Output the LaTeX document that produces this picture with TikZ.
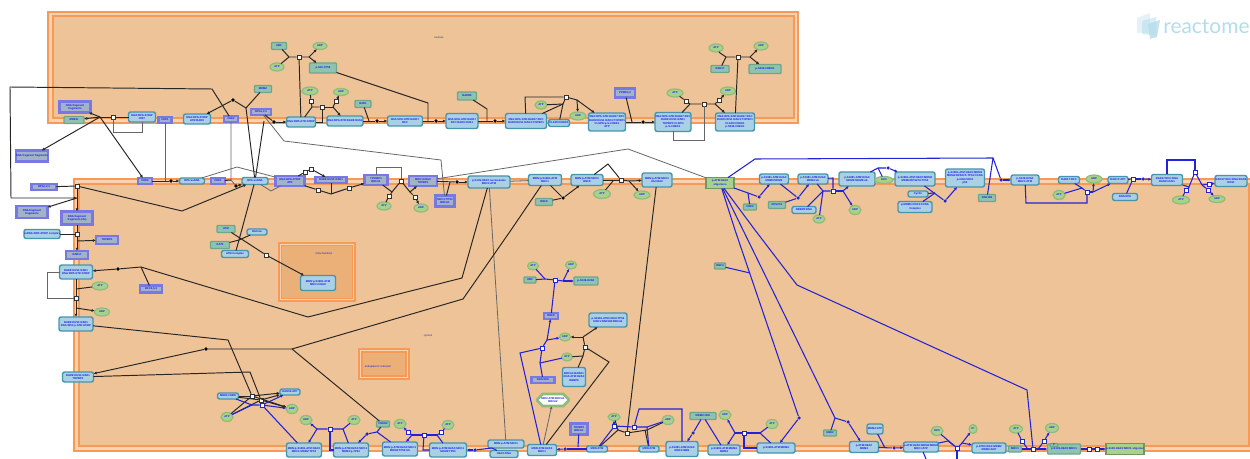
\documentclass[tikz,border=0pt]{standalone}
\usepackage{fontspec}
\setmainfont{Liberation Sans}
\newfontfamily\logofont{Lato}
\usetikzlibrary{arrows.meta,shapes.geometric,shapes.misc}
\definecolor{compout}{HTML}{F7D3B4}
\definecolor{compin}{HTML}{EEC398}
\definecolor{compline}{HTML}{F79A55}
\definecolor{compsub}{HTML}{EBB078}
\definecolor{cxfill}{HTML}{A9D0E4}
\definecolor{cxline}{HTML}{4795AD}
\definecolor{prfill}{HTML}{8FC3B0}
\definecolor{prline}{HTML}{6FA68A}
\definecolor{stfill}{HTML}{A2B3C8}
\definecolor{stline}{HTML}{7878E4}
\definecolor{chfill}{HTML}{A9D18E}
\definecolor{chline}{HTML}{8FBC7C}
\definecolor{lbl}{HTML}{1818F0}
\definecolor{blueln}{HTML}{2222D8}
\definecolor{grayln}{HTML}{666666}
\definecolor{logoc}{HTML}{B4DCEA}
\tikzset{
ent/.style n args={2}{inner sep=0pt,outer sep=0pt,align=center,text=lbl,minimum width=#1*0.02cm,minimum height=#2*0.02cm,font=\bfseries\fontsize{1.55}{1.9}\selectfont},
cx/.style 2 args={ent={#1}{#2},rectangle,rounded corners=1.2pt,fill=cxfill,draw=cxline,line width=0.8pt},
pr/.style 2 args={ent={#1}{#2},rectangle,rounded corners=0.5pt,fill=prfill,draw=prline,line width=0.8pt},
st/.style 2 args={ent={#1}{#2},rectangle,fill=stfill,draw=stline,line width=1.4pt},
ch/.style 2 args={ent={#1}{#2},ellipse,fill=chfill,draw=chline,line width=0.7pt},
gr/.style 2 args={ent={#1}{#2},rectangle,fill=chfill,draw=chline!80!black,line width=0.8pt},
rx/.style={rectangle,inner sep=0pt,minimum size=2.2pt,fill=white,draw=black!80,line width=0.4pt},
brx/.style={rx,draw=blueln},
dt/.style={circle,inner sep=0pt,minimum size=2pt,fill=black},
bdt/.style={dt,fill=blueln},
ln/.style={line width=0.55pt,black!85},
gl/.style={line width=0.45pt,grayln},
bl/.style={line width=0.6pt,blueln},
complbl/.style={text=lbl,inner sep=0pt,font=\fontsize{1.5}{1.8}\selectfont}
}
\begin{document}
\begin{tikzpicture}[x=0.02cm,y=-0.02cm,>={Latex[length=1.8pt,width=1.7pt]}]
\useasboundingbox (0,0) rectangle (1250,459);
\fill[white] (0,0) rectangle (1250,459);
\draw[fill=compout,draw=compline,line width=0.8pt] (48,12) rectangle (798,123);
\draw[fill=compin,draw=compline,line width=0.8pt] (53,16) rectangle (794,118);
\draw[fill=compout,draw=compline,line width=0.8pt] (74,179) rectangle (1262,451);
\draw[fill=compin,draw=compline,line width=0.8pt] (79,184) rectangle (1249,446);
\draw[fill=compout,draw=compline,line width=0.6pt] (279,243) rectangle (355,301);
\draw[fill=compsub,draw=compline,line width=0.6pt] (281.5,245.5) rectangle (352.5,298.5);
\draw[fill=compout,draw=compline,line width=0.6pt] (359,349) rectangle (409,379);
\draw[fill=compsub,draw=compline,line width=0.6pt] (362,352) rectangle (406,376);
\node[complbl] (nucl) at (439,38) {nucleus};
\node[complbl] (cyto) at (428,336) {cytosol};
\node[complbl] (subA) at (324,254) {mitochondrion};
\node[complbl] (subB) at (378,367) {endoplasmic reticulum};
\node[text=logoc,inner sep=0pt,anchor=west,font=\logofont\fontsize{11.9}{12}\selectfont] (logo) at (1163,27) {reactome};
\fill[logoc,opacity=0.35] (1137,18) -- (1150,13) -- (1150,33) -- (1137,33) -- cycle;
\fill[logoc,opacity=0.5] (1142,21) -- (1156,17) -- (1156,36) -- (1142,34) -- cycle;
\fill[logoc,opacity=0.8] (1148,24) -- (1160,20) -- (1157,37) -- (1150,39) -- cycle;

\node[pr={15}{7}] (pr279) at (279,46) {UBC};
\node[ch={14}{7}] (ch320) at (320,46) {ADP};
\node[ch={14}{8}] (ch277) at (277,67) {ATP};
\node[pr={27}{10}] (pr323) at (323,68) {p-S15-TP53};
\node[pr={17}{7}] (pr263) at (263,89) {MDM2};
\node[ch={16}{8}] (ch310) at (310,91) {ATP};
\node[ch={15}{7}] (ch341) at (341,92) {ADP};
\node[pr={16}{7}] (pr363) at (363,104) {RAD1};
\node[st={20}{6}] (st261) at (261,112) {RPA1,2,3};
\node[cx={27}{10}] (cx197) at (197,119) {DNA:RPA:ATRIP\\ATR:RAD9};
\node[st={14}{6}] (st231) at (231,119) {CDK2};
\node[cx={29}{10}] (cx301) at (301,122) {DNA:RPA:ATR:ATRIP};
\node[cx={36}{10}] (cx345) at (345,121) {DNA:RPA:ATR:RAD9:HUS1};
\node[cx={35}{10}] (cx405) at (405,121) {DNA:RPA:ATR:RAD17\\RFC};
\node[cx={27}{10}] (cx142) at (142,117) {DNA:RPA:ATRIP\\HIST};
\node[st={13}{6}] (st165) at (165,120) {CDK1};
\node[st={31}{11}] (st75) at (75,107) {DNA fragment\\fragments};
\node[pr={20}{7}] (pr74) at (74,120) {MRE11};
\node[st={32}{11}] (st32) at (32,156) {DNA fragment fragments};
\node[st={25}{6}] (st44) at (44,187) {RPA1,2,3};
\node[st={31}{12}] (st32b) at (32,212) {DNA fragment\\fragments};
\node[st={31}{13}] (st77) at (77,218) {DNA fragment\\fragments (ds)};
\node[st={14}{6}] (st145) at (145,181) {CDK2};
\node[cx={25}{6}] (cx192) at (192,181) {RPA:ssDNA};
\node[st={14}{6}] (st218) at (218,181) {CDK1};
\node[cx={26}{7}] (cx255) at (255,181) {RPA:ssDNA};
\node[st={29}{10}] (st290) at (290,181) {DNA:RPA:ATRIP\\ATR};
\node[st={31}{6}] (st331) at (331,180) {RAD9:HUS1:RAD1};
\node[st={23}{10}] (st376) at (376,180) {TP53BP1\\BRCA1};
\node[st={28}{10}] (st423) at (423,181) {MDC1:H2AX\\TOPBP1};
\node[ch={14}{8}] (ch384) at (384,206) {ATP};
\node[ch={14}{8}] (ch421) at (421,208) {ADP};

\node[cx={32}{15}] (cx462) at (462,121) {DNA:RPA:ATR:RAD17\\RFC:RAD9:HUS1};
\node[pr={19}{8}] (pr467) at (467,96) {RAD9B};
\node[cx={41}{15}] (cx526) at (526,121) {DNA:RPA:ATR:RAD17:RFC\\RAD9:HUS1:RAD1:TOPBP1};
\node[ch={12}{8}] (ch541) at (541,105) {ATP};
\node[cx={21}{7}] (cx559) at (559,123) {CLSPN:CHEK1};
\node[ch={16}{8}] (ch578) at (578,116) {ADP};
\node[cx={37}{18}] (cx607) at (607,122) {DNA:RPA:ATR:RAD17:RFC\\RAD9:HUS1:RAD1:TOPBP1\\CLSPN:p-S-CHEK1\\ATP};
\node[st={20}{9}] (st625) at (625,93) {PPM1D,2};
\node[cx={36}{19}] (cx673) at (673,122) {DNA:RPA:ATR:RAD17:RFC\\RAD9:HUS1:RAD1\\TOPBP1:CLSPN\\p-S-CHEK1};
\node[ch={16}{8}] (ch675) at (675,93) {ATP};
\node[ch={15}{8}] (ch728) at (728,91) {ADP};
\node[cx={39}{18}] (cx735) at (735,122) {DNA:RPA:ATR:RAD17:RFC\\RAD9:HUS1:RAD1:TOPBP1\\CLSPN:CHEK1\\p-S345-CHEK1};
\node[ch={14}{8}] (ch716) at (716,48) {ATP};
\node[ch={14}{8}] (ch761) at (761,46) {ADP};
\node[pr={18}{7}] (pr720) at (720,69) {RAD17};
\node[pr={32}{9}] (pr765) at (765,69) {p-S345-CHEK1};
\node[st={19}{11}] (st445) at (445,201) {MDC1:TP53\\BRCA1};
\node[cx={42}{12}] (cx489) at (489,182) {p-S139-H2AX nucleosome\\MDC1:ATM};
\node[cx={33}{11}] (cx545) at (545,180) {MRN:p-S1981-ATM\\MDC1};
\node[pr={17}{7}] (pr544) at (544,202) {RNF8};
\node[cx={32}{11}] (cx587) at (587,180) {MRN:p-ATM:MDC1\\RNF8};
\node[ch={17}{9}] (ch602) at (602,194) {ATP};
\node[ch={16}{8}] (ch642) at (642,195) {ADP};
\node[cx={30}{14}] (cx657) at (657,180) {MRN:p-ATM:MDC1\\Ub-H2AX};
\node[gr={28}{11}] (gr720) at (720,183) {p-ATM:H2AX\\oligomers};
\node[cx={29}{10}] (cx774) at (774,179) {p-S1981-ATM:H2AX\\MDM4:MDM2};
\node[pr={13}{6}] (pr750) at (750,207) {CDK2};
\node[pr={17}{7}] (pr777) at (777,205) {RPS27A};
\node[cx={30}{10}] (cx813) at (813,179) {p-S1981-ATM:H2AX\\MDM4:ub};
\node[cx={24}{7}] (cx804) at (804,210) {RBBP8:DNA};
\node[ch={12}{8}] (ch819) at (819,219) {ATP};

\node[cx={36}{14}] (cx857) at (857,179) {p-S1981-ATM:H2AX\\MDM2:MDM4:ub};
\node[ch={18}{7}] (ch884) at (884,180) {H2O};
\node[ch={12}{9}] (ch855) at (855,210) {ADP};
\node[cx={40}{14}] (cx915) at (915,179) {p-S1981-ATM:H2AX:MDM2\\MDM4:RPS27A:TP53};
\node[cx={20}{6}] (cx918) at (918,194) {Cyclin};
\node[cx={34}{11}] (cx915b) at (915,207) {p-MDM4:CDK2:CCNA\\Complex};
\node[cx={39}{18}] (cx965) at (965,178) {p-S1981-ATM:H2AX:MDM2\\MDM4:RPS27A:TP53:CCNA\\p-CDK2:RPA\\p53};
\node[pr={17}{7}] (pr987) at (987,198) {RNF168};
\node[cx={28}{10}] (cx1025) at (1025,180) {p-S139-H2AX\\MDC1:ATM};
\node[cx={21}{7}] (cx1069) at (1069,180) {RAD17:RFC};
\node[ch={16}{8}] (ch1094) at (1094,179) {ADP};
\node[ch={12}{9}] (ch1059) at (1059,195) {ATP};
\node[cx={20}{7}] (cx1118) at (1118,180) {RAD17:ATP};
\node[cx={25}{7}] (cx1125) at (1125,197) {DNA:RPA};
\node[cx={31}{11}] (cx1167) at (1167,180) {RAD17:RFC:DNA\\RAD9:HUS1};
\node[ch={17}{8}] (ch1181) at (1181,200) {ATP};
\node[ch={16}{7}] (ch1217) at (1217,199) {ADP};
\node[cx={32}{11}] (cx1231) at (1231,181) {RAD17:RFC:DNA:RAD9\\HUS1};

\node[cx={35}{9}] (cx42) at (42,234) {ssDNA:RPA:ATRIP complex};
\node[st={22}{8}] (st107) at (107,240) {TOPBP1};
\node[st={22}{8}] (st77b) at (77,255) {RAD17};
\node[cx={33}{14}] (cx76) at (76,272) {RAD9:HUS1:RAD1\\DNA:RPA:ATR:ATRIP};
\node[ch={16}{8}] (ch100) at (100,286) {ATP};
\node[ch={15}{8}] (ch102) at (102,312) {ADP};
\node[cx={34}{14}] (cx76b) at (76,324) {RAD9:HUS1:RAD1\\DNA:RPA:p-ATR:ATRIP};
\node[st={22}{7}] (st151) at (151,289) {RFC2,3,4};
\node[cx={31}{10}] (cx78) at (78,377) {RAD9:HUS1:RAD1\\TOPBP1};
\node[cx={21}{6}] (cx228) at (228,396) {MRE11:NBN};
\node[cx={20}{6}] (cx290) at (290,392) {RAD50:ATP};
\node[ch={12}{9}] (ch227) at (227,417) {ATP};
\node[ch={12}{9}] (ch292) at (292,409) {ADP};
\node[ch={12}{9}] (ch306) at (306,420) {ADP};
\node[ch={12}{9}] (ch354) at (354,420) {ATP};
\node[pr={13}{6}] (pr383) at (383,424) {CHEK2};
\node[ch={12}{9}] (ch400) at (400,424) {ATP};
\node[cx={35}{14}] (cx304) at (304,450) {MRN:p-S1981-ATM:H2AX\\MDC1:MDM2:TP53};
\node[cx={35}{14}] (cx351) at (351,450) {MRN:p-ATM:H2AX:MDC1\\MDM2:p-TP53};
\node[cx={35}{14}] (cx400) at (400,449) {MRN:p-ATM:H2AX:MDC1\\MDM2:TP53:Ub};
\node[cx={35}{15}] (cx318) at (318,283) {MRN:p-S1981-ATM\\MDC1:H2AX};
\node[cx={27}{7}] (cx235) at (235,254) {ATM Complex};
\node[pr={19}{7}] (pr220) at (220,245) {KAT5};
\node[pr={18}{7}] (pr226) at (226,229) {ATM};
\node[cx={20}{6}] (cx257) at (257,232) {Histone};

\node[ch={12}{9}] (ch448) at (448,425) {ATP};
\node[cx={37}{14}] (cx448) at (448,450) {MRN:p-ATM:H2AX:MDC1\\MDM2:TP53};
\node[cx={36}{8}] (cx506) at (506,444) {MRN:p-ATM:MDC1};
\node[cx={28}{7}] (cx504) at (504,454) {H2AX:DNA};
\node[cx={29}{11}] (cx542) at (542,450) {MRN:ATM:H2AX\\MDC1};
\node[st={17}{11}] (st579) at (579,429) {TOPBP1\\BRCA1};
\node[cx={21}{6}] (cx597) at (597,449) {MRN:ATM};
\node[cx={20}{6}] (cx649) at (649,449) {MRN:ATM};
\node[ch={12}{7}] (ch614) at (614,417) {ATP};
\node[ch={12}{9}] (ch668) at (668,420) {ADP};
\node[cx={32}{15}] (cx682) at (682,449) {p-S1981-ATM:H2AX\\MDC1:NBN};
\node[pr={26}{7}] (pr703) at (703,416) {MDM4:CDK};
\node[ch={12}{9}] (ch725) at (725,415) {ADP};
\node[ch={12}{9}] (ch772) at (772,424) {ATP};
\node[cx={32}{10}] (cx724) at (724,450) {p-S1981-ATM:MDM4\\MDM2};
\node[cx={38}{10}] (cx776) at (776,448) {p-S1981-ATM:MDM4};
\node[chamfered rectangle,ent={31}{12},fill=white,draw=chline,line width=1.5pt,chamfered rectangle xsep=1.5pt,chamfered rectangle ysep=1.5pt,chamfered rectangle corners={north east,north west,south east,south west}] (hex553) at (553,400) {MRN:ATM:BRCA1\\BRCA2};
\node[cx={23}{19}] (cx574) at (574,377) {BRCA1:BARD1\\DNA:ATM:H2AX\\RBBP8};
\node[st={23}{6}] (st543) at (543,380) {DNA:RPA};
\node[ch={11}{8}] (ch567) at (567,357) {ATP};
\node[ch={11}{8}] (ch565) at (565,337) {ADP};
\node[cx={38}{14}] (cx608) at (608,320) {p-S1981-ATM:H2AX:TP53\\MDC1:RNF168:BRCA1};
\node[st={14}{6}] (st551) at (551,316) {RNF8};
\node[ch={11}{8}] (ch533) at (533,266) {ATP};
\node[ch={11}{8}] (ch571) at (571,265) {ADP};
\node[pr={12}{6}] (pr530) at (530,280) {UBC};
\node[pr={24}{8}] (pr586) at (586,281) {p-S139-H2AX};
\node[pr={11}{6}] (pr720b) at (720,266) {RNF4};
\node[pr={13}{6}] (pr830) at (830,433) {UBE2};
\node[cx={29}{11}] (cx864) at (864,447) {p-ATM:H2AX\\MDM2};
\node[cx={16}{10}] (cx875) at (875,429) {MDM4:ATP};
\node[cx={35}{10}] (cx921) at (921,447) {p-ATM:H2AX:MDM2:MDM4\\MDC1:ATP};
\node[ch={12}{9}] (ch937) at (937,431) {H2O};
\node[ch={8}{9}] (ch973) at (973,429) {Pi};
\node[cx={34}{10}] (cx989) at (989,448) {p-ATM:H2AX:MDM2\\MDM4:ADP};
\node[pr={13}{6}] (pr1015) at (1015,449) {MDC1};
\node[ch={13}{8}] (ch1016) at (1016,429) {ATP};
\node[ch={13}{9}] (ch1052) at (1052,428) {ADP};
\node[pr={33}{10}] (pr1064) at (1064,449) {p-S139-H2AX:MDC1};
\node[pr={8}{3}] (pr1054) at (1054,445) {P};
\node[gr={37}{11}] (gr1125) at (1125,449) {p-S139-H2AX:MDC1 oligomer};

\node[rx] (rx299) at (299,57) {};
\node[rx] (rx311) at (311,101) {};
\node[rx] (rx336) at (336,101) {};
\node[rx] (rx322) at (322,107) {};
\node[rx] (rx113) at (113,117) {};
\node[rx] (rx77) at (77,186) {};
\node[rx] (rx305) at (305,172) {};
\node[rx] (rx311b) at (311,169) {};
\node[rx] (rx318) at (318,190) {};
\node[rx] (rx349) at (349,188) {};
\node[rx] (rx401) at (401,181) {};
\node[rx] (rx389) at (389,196) {};
\node[rx] (rx415) at (415,197) {};
\node[rx] (rx566) at (566,97) {};
\node[rx] (rx686) at (686,101) {};
\node[rx] (rx719) at (719,100) {};
\node[rx] (rx704) at (704,104) {};
\node[rx] (rx738) at (738,57) {};
\node[rx] (rx621) at (621,180) {};
\node[rx] (rx77b) at (77,234) {};
\node[rx] (rx76) at (76,298) {};
\node[rx] (rx252) at (252,396) {};
\node[rx] (rx261) at (261,400) {};
\node[rx] (rx266) at (266,255) {};
\node[rx] (rx585) at (585,347) {};
\node[rx] (rx627) at (627,433) {};
\node[brx] (rx262) at (262,405) {};
\node[brx] (rx330) at (330,429) {};
\node[brx] (rx408) at (408,432) {};
\node[brx] (rx424) at (424,435) {};
\node[brx] (rx441) at (441,432) {};
\node[brx] (rx614) at (614,426) {};
\node[brx] (rx634) at (634,427) {};
\node[brx] (rx744) at (744,433) {};
\node[brx] (rx542) at (542,348) {};
\node[brx] (rx555) at (555,280) {};
\node[brx] (rx833) at (833,191) {};
\node[brx] (rx1087) at (1087,192) {};
\node[brx] (rx1133) at (1133,179) {};
\node[brx] (rx1195) at (1195,172) {};
\node[brx] (rx1186) at (1186,190) {};
\node[brx] (rx1209) at (1209,184) {};
\node[brx] (rx1208) at (1208,190) {};
\node[brx] (rx957) at (957,448) {};
\node[brx] (rx1022) at (1022,441) {};
\node[brx] (rx1033) at (1033,449) {};
\node[brx] (rx1044) at (1044,441) {};
\node[brx] (rx1089) at (1089,449) {};
\node[brx] (rx1097) at (1097,449) {};
\node[dt] (dt233) at (233,100) {};
\node[dt] (dt274) at (274,122) {};
\node[dt] (dt377) at (377,121) {};
\node[dt] (dt495) at (495,121) {};
\node[dt] (dt643) at (643,122) {};
\node[dt] (dt171) at (171,181) {};
\node[dt] (dt236) at (236,186) {};
\node[dt] (dt457) at (457,182) {};
\node[dt] (dt563) at (563,198) {};
\node[dt] (dt118) at (118,269) {};
\node[dt] (dt206) at (206,349) {};
\node[dt] (dt436) at (436,121) {};
\node[bdt] (dt759) at (759,197) {};
\node[bdt] (dt798) at (798,198) {};
\node[bdt] (dt888) at (888,168) {};
\node[bdt] (dt945) at (945,201) {};
\node[bdt] (dt1001) at (1001,180) {};
\node[bdt] (dt1143) at (1143,179) {};
\node[bdt] (dt367) at (367,434) {};
\node[bdt] (dt475) at (475,450) {};
\node[bdt] (dt565) at (565,449) {};
\node[bdt] (dt693) at (693,433) {};
\node[bdt] (dt799) at (799,418) {};
\node[bdt] (dt848) at (848,422) {};
\node[bdt] (dt894) at (894,448) {};

\draw[ln,->] (st231) -- (212,89) -- (10,87) -- (11,198) -- (77,198);
\draw[ln] (st44) -- (rx77);
\draw[ln,->] (rx77) -- (st77);
\draw[ln,->] (77,198) -- (st32b);
\draw[ln,->] (rx77) -- (182,211) -- (cx255);
\draw[ln] (cx142) -- (rx113) -- (100,117);
\draw[ln,->] (100,117) -- (pr74);
\draw[ln,->] (100,117) -- (st75);
\draw[ln,->] (100,117) -- (st32);
\draw[ln,->] (100,117) -- (st145);
\draw[gl] (rx113) -- (113,132) -- (142,132) -- (cx142);
\draw[gl] (st165) -- (165,181);
\draw[ln] (st145) -- (dt171);
\draw[ln,->] (dt171) -- (cx192);
\draw[gl] (st231) -- (231,180) -- (dt236);
\draw[ln] (st218) -- (231,180);
\draw[ln,->] (dt236) -- (cx255);
\draw[gl] (cx192) -- (237,167) -- (st290);
\draw[gl] (cx255) -- (271,191) -- (st290);
\draw[ln] (cx255) -- (246,108) -- (dt233);
\draw[ln,->] (dt233) -- (cx197);
\draw[ln] (246,108) -- (pr263);
\draw[ln] (cx255) -- (264,121);
\draw[ln] (st261) -- (dt274);
\draw[ln,->] (dt274) -- (cx301);
\draw[gl] (st261) -- (284,141) -- (441,160) -- (st445);
\draw[ln] (cx255) -- (239,240) -- (cx235);
\draw[ln] (pr220) -- (239,240) -- (cx257);
\draw[ln] (pr226) -- (rx266);
\draw[ln,->] (rx266) -- (cx318);
\draw[ln] (st290) -- (rx318) -- (331,194) -- (rx349);
\draw[ln,->] (rx349) -- (st376);
\draw[ln] (331,194) -- (st331);
\draw[ln] (st290) -- (rx305) -- (rx311b);
\draw[ln,->] (rx311b) -- (st331);
\draw[gl] (st376) -- (376,167) -- (401,167) -- (rx401);
\draw[ln] (st376) -- (392,192) -- (rx401);
\draw[ln] (ch384) -- (rx389) -- (392,192);
\draw[ln,->] (rx401) -- (410,192) -- (st423);
\draw[ln,->] (410,192) -- (rx415) -- (ch421);
\draw[ln] (pr279) -- (289,57) -- (rx299) -- (309,57);
\draw[ln] (ch277) -- (289,57);
\draw[ln,->] (309,57) -- (ch320);
\draw[ln,->] (309,57) -- (pr323);
\draw[ln] (rx299) -- (cx301);
\draw[ln] (pr323) -- (428,103) -- (428,121);
\draw[ln] (cx405) -- (dt436);
\draw[ln,->] (dt436) -- (cx462);
\draw[ln] (cx301) -- (312,107) -- (rx322);
\draw[ln] (ch310) -- (rx311) -- (312,107);
\draw[ln] (rx322) -- (333,107);
\draw[ln,->] (333,107) -- (rx336) -- (ch341);
\draw[ln,->] (333,107) -- (cx345);
\draw[ln] (rx322) -- (322,122) -- (cx301);
\draw[ln] (pr363) -- (369,121);
\draw[ln] (cx345) -- (dt377);
\draw[ln,->] (dt377) -- (cx405);
\draw[ln] (pr467) -- (487,109) -- (487,121);
\draw[ln] (cx462) -- (dt495);
\draw[ln,->] (dt495) -- (cx526);
\draw[ln] (cx526) -- (525,97) -- (rx566);
\draw[ln] (ch541) -- (563,104);
\draw[ln] (cx526) -- (563,104);
\draw[ln] (cx559) -- (563,104) -- (rx566);
\draw[ln,->] (rx566) -- (577,100) -- (ch578);
\draw[ln,->] (577,100) -- (cx607);
\draw[ln] (st625) -- (632,122);
\draw[ln] (cx607) -- (dt643);
\draw[ln,->] (dt643) -- (cx673);
\draw[ln] (cx673) -- (690,104) -- (rx704) -- (715,104);
\draw[ln] (ch675) -- (rx686) -- (690,104);
\draw[ln,->] (715,104) -- (rx719) -- (ch728);
\draw[ln,->] (715,104) -- (cx735);
\draw[gl] (673,131) -- (673,140) -- (704,140) -- (rx704);
\draw[ln] (ch716) -- (720,53) -- (726,57) -- (rx738) -- (750,57);
\draw[ln] (pr720) -- (726,57);
\draw[ln,->] (750,57) -- (ch761);
\draw[ln,->] (750,57) -- (pr765);
\draw[ln] (rx738) -- (cx735);
\draw[ln] (st423) -- (dt457);
\draw[ln,->] (dt457) -- (cx489);
\draw[ln] (st445) -- (450,182);
\draw[gl] (st423) -- (628,149) -- (gr720);
\draw[gl] (cx489) -- (cx545);
\draw[ln,->] (cx489) -- (462,278) -- (308,317) -- (141,267) -- (dt118) -- (cx76);
\draw[ln] (st151) -- (141,267);
\draw[gl] (cx489) -- (cx506);
\draw[ln] (cx545) -- (dt563);
\draw[ln,->] (dt563) -- (cx587);
\draw[ln] (cx545) -- (511,230) -- (463,299) -- (292,349) -- (dt206);
\draw[ln,->] (dt206) -- (cx78);
\draw[ln] (292,349) -- (pr383);
\draw[ln] (pr544) -- (dt563);
\draw[ln] (cx587) -- (608,164) -- (rx621);
\draw[ln] (cx587) -- (rx621);
\draw[ln] (ch602) -- (613,181);
\draw[ln] (rx621) -- (629,181);
\draw[ln,->] (629,181) -- (cx657);
\draw[ln,->] (629,181) -- (ch642);
\draw[ln] (cx657) -- (651,230) -- (rx627);
\draw[gl] (cx76) -- (47,272) -- (47,298) -- (rx76);
\draw[ln] (cx76) -- (rx76);
\draw[ln] (ch100) -- (76,289);
\draw[ln,->] (rx76) -- (cx76b);
\draw[ln,->] (76,308) -- (ch102);
\draw[ln] (cx42) -- (rx77b);
\draw[ln,->] (rx77b) -- (st77b);
\draw[ln,->] (77,241) -- (st107);
\draw[ln] (st77) -- (rx77b);
\draw[ln] (cx76b) -- (228,340) -- (rx252);
\draw[ln] (cx78) -- (250,372) -- (rx261);
\draw[ln] (cx228) -- (rx252);
\draw[ln] (cx228) -- (rx261);
\draw[ln] (ch227) -- (rx252);
\draw[ln] (ch227) -- (rx261);
\draw[ln,->] (rx252) -- (cx290);
\draw[ln,->] (rx252) -- (ch292);
\draw[ln,->] (rx261) -- (cx290);
\draw[ln,->] (rx261) -- (ch292);
\draw[bl] (ch227) -- (252,405) -- (rx262);
\draw[bl] (cx228) -- (252,405);
\draw[bl,->] (rx262) -- (cx290);
\draw[bl,->] (rx262) -- (ch292);
\draw[bl] (rx262) -- (cx304);
\draw[bl] (cx351) -- (343,429) -- (rx330) -- (317,429);
\draw[bl] (ch354) -- (343,429);
\draw[bl,->] (317,429) -- (cx304);
\draw[bl,->] (317,429) -- (ch306);
\draw[bl] (rx330) -- (330,450) -- (cx351);
\draw[bl] (pr383) -- (377,432) -- (dt367);
\draw[bl,->] (dt367) -- (cx351);
\draw[bl] (377,432) -- (cx400);
\draw[bl,->] (412,435) -- (cx400);
\draw[bl,->] (412,435) -- (rx408) -- (ch400);
\draw[bl] (rx424) -- (412,435);
\draw[bl] (rx424) -- (437,435);
\draw[bl] (ch448) -- (rx441) -- (437,435);
\draw[bl] (437,435) -- (cx448);
\draw[bl] (rx424) -- (423,450) -- (cx448);
\draw[bl] (cx506) -- (492,448) -- (dt475);
\draw[bl] (cx504) -- (492,448);
\draw[bl,->] (dt475) -- (cx448);
\draw[gl,->] (cx542) -- (hex553);
\draw[bl] (cx542) -- (520,353) -- (rx542);
\draw[ln] (cx542) -- (609,362) -- (rx585);
\draw[bl] (st543) -- (540,363) -- (ch567);
\draw[bl] (540,363) -- (rx542);
\draw[bl] (rx542) -- (547,340);
\draw[bl,->] (547,340) -- (ch565);
\draw[bl,->] (547,340) -- (st551);
\draw[bl] (st551) -- (rx555);
\draw[bl] (ch533) -- (545,279) -- (rx555);
\draw[bl] (pr530) -- (545,279);
\draw[bl] (rx555) -- (563,281);
\draw[bl,->] (563,281) -- (ch571);
\draw[bl,->] (563,281) -- (pr586);
\draw[ln] (ch567) -- (583,356) -- (rx585);
\draw[ln] (cx574) -- (583,356);
\draw[ln] (rx585) -- (583,337);
\draw[ln,->] (583,337) -- (ch565);
\draw[ln,->] (583,337) -- (cx608);
\draw[bl] (st579) -- (578,447);
\draw[bl] (cx597) -- (dt565);
\draw[bl,->] (dt565) -- (cx542);
\draw[ln] (cx597) -- (618,430) -- (rx627) -- (647,430);
\draw[ln] (ch614) -- (618,430);
\draw[ln] (cx649) -- (645,430);
\draw[ln] (ch668) -- (647,430);
\draw[bl] (cx597) -- (613,428) -- (rx614) -- (rx634) -- (647,427);
\draw[bl] (ch668) -- (647,427);
\draw[bl,->] (rx614) -- (ch614);
\draw[bl] (rx634) -- (639,409) -- (682,409) -- (cx682);
\draw[bl] (647,427) -- (cx649);
\draw[bl] (pr703) -- (dt693);
\draw[bl,->] (dt693) -- (cx682);
\draw[bl] (pr703) -- (cx724);
\draw[bl] (rx744) -- (735,433);
\draw[bl,->] (735,433) -- (cx724);
\draw[bl,->] (735,433) -- (ch725);
\draw[bl] (rx744) -- (760,433);
\draw[bl] (ch772) -- (760,433);
\draw[bl] (cx776) -- (760,433);
\draw[bl] (rx744) -- (744,448) -- (cx776);
\draw[bl] (gr720) -- (735,230) -- (dt799);
\draw[bl,->] (dt799) -- (cx776);
\draw[bl] (gr720) -- (743,230) -- (835,418) -- (pr830);
\draw[bl] (835,418) -- (dt848);
\draw[bl,->] (dt848) -- (cx864);
\draw[bl] (gr720) -- (755,230) -- (797,285) -- (1027,390) -- (rx1033);
\draw[bl] (pr720b) -- (750,273);
\draw[bl] (gr720) -- (748,193) -- (dt759);
\draw[bl,->] (dt759) -- (cx774);
\draw[bl] (pr750) -- (748,193);
\draw[bl] (cx774) -- (dt798);
\draw[bl,->] (dt798) -- (cx813);
\draw[bl] (pr777) -- (dt798);
\draw[bl] (cx813) -- (823,191) -- (rx833);
\draw[bl] (ch819) -- (823,191);
\draw[bl] (cx804) -- (823,191);
\draw[bl] (cx813) -- (833,178) -- (rx833);
\draw[bl] (rx833) -- (843,191);
\draw[bl,->] (843,191) -- (cx857);
\draw[bl,->] (843,191) -- (ch855);
\draw[bl] (gr720) -- (755,159) -- (993,158) -- (dt1001);
\draw[bl,->] (dt1001) -- (cx1025);
\draw[bl] (993,158) -- (pr987);
\draw[bl] (cx857) -- (878,168) -- (dt888);
\draw[bl,->] (dt888) -- (cx915);
\draw[bl] (ch884) -- (878,168);
\draw[bl] (cx915) -- (dt945);
\draw[bl,->] (dt945) -- (cx965);
\draw[bl] (cx918) -- (935,193);
\draw[bl] (cx915b) -- (935,193);
\draw[bl] (cx1025) -- (1026,203) -- (1087,203) -- (rx1087);
\draw[bl] (cx1069) -- (1082,188) -- (rx1087);
\draw[bl] (ch1059) -- (1082,188);
\draw[bl] (rx1087) -- (1093,192);
\draw[bl,->] (1093,192) -- (ch1094);
\draw[bl,->] (1093,192) -- (cx1118);
\draw[bl] (cx1118) -- (rx1133);
\draw[bl] (rx1133) -- (dt1143);
\draw[bl,->] (dt1143) -- (cx1167);
\draw[bl] (cx1125) -- (rx1133);
\draw[bl] (cx1167) -- (1167,160) -- (1195,160) -- (rx1195);
\draw[bl] (cx1167) -- (1189,187) -- (rx1195);
\draw[bl] (ch1181) -- (rx1186) -- (1189,187);
\draw[bl] (rx1195) -- (1202,185);
\draw[bl,->] (1202,185) -- (rx1209) -- (cx1231);
\draw[bl,->] (1202,185) -- (rx1208) -- (ch1217);
\draw[bl] (cx875) -- (885,448);
\draw[bl] (cx864) -- (dt894);
\draw[bl,->] (dt894) -- (cx921);
\draw[bl] (cx921) -- (948,441) -- (rx957);
\draw[bl] (ch937) -- (rx957);
\draw[bl] (rx957) -- (962,443);
\draw[bl,->] (962,443) -- (ch973);
\draw[bl,->] (962,443) -- (cx989);
\draw[bl] (cx921) -- (926,459);
\draw[bl] (rx957) -- (957,459);
\draw[bl] (ch1016) -- (rx1022) -- (1027,448);
\draw[bl] (pr1015) -- (rx1033);
\draw[bl] (rx1033) -- (1039,448);
\draw[bl,->] (1039,448) -- (rx1044) -- (ch1052);
\draw[bl,->] (rx1033) -- (pr1064);
\draw[bl] (pr1064) -- (rx1089);
\draw[bl] (rx1089) -- (rx1097);
\draw[bl,->] (rx1097) -- (gr1125);
\end{tikzpicture}
\end{document}
